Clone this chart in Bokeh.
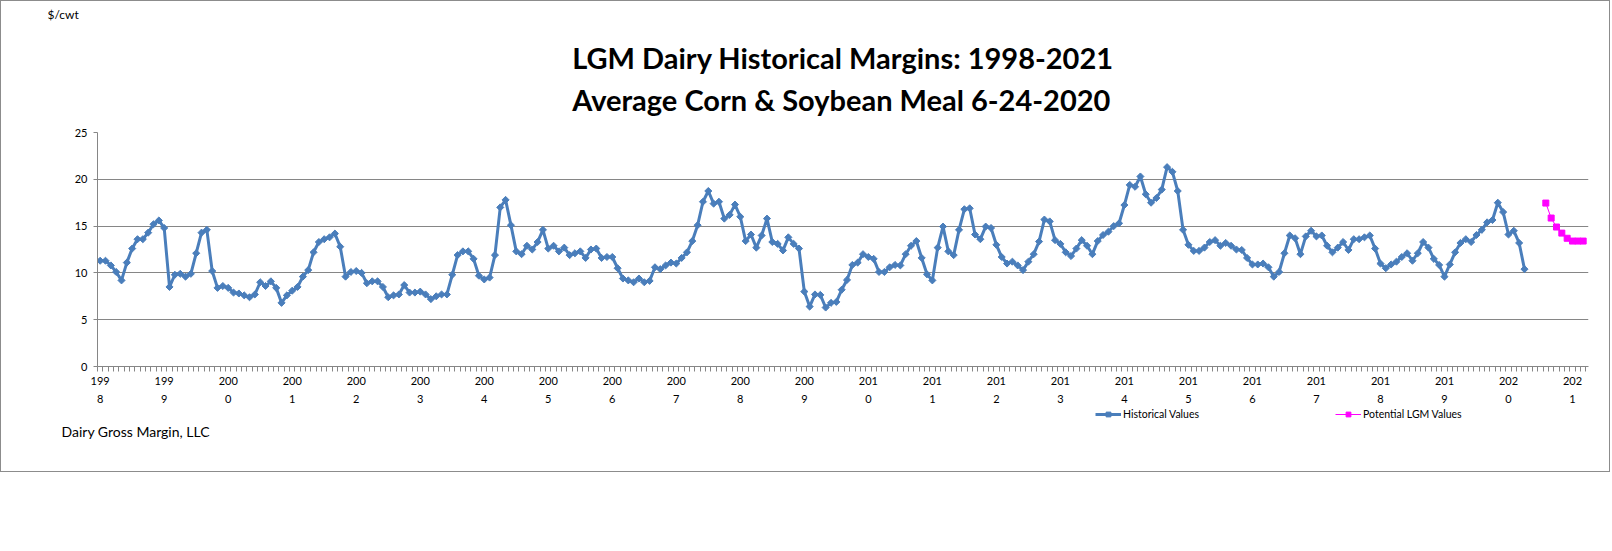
import numpy as np
from bokeh.plotting import figure
from bokeh.layouts import column
from bokeh.models import Range1d, FixedTicker, LinearAxis, Legend, LegendItem, Title
from bokeh.embed import file_html
from bokeh.resources import INLINE

# ---------------- data ----------------
years = list(range(1998, 2022))                      # x tick labels (one per January)
year_label_top = [str(y)[:3] for y in years]         # Excel wraps "1998" as "199" / "8"
year_label_bottom = [str(y)[3:] for y in years]

# Historical margin, $/cwt, monthly from Jan 1998 to Apr 2020
hist_values = [
    11.3, 11.3, 10.8, 10.1, 9.2, 11.1, 12.6, 13.6, 13.6, 14.3, 15.2, 15.6,     # 1998
    14.8, 8.5, 9.8, 9.9, 9.6, 9.9, 12.1, 14.3, 14.6, 10.2, 8.4, 8.6,           # 1999
    8.4, 7.9, 7.8, 7.6, 7.4, 7.7, 9.0, 8.6, 9.1, 8.4, 6.8, 7.6,                # 2000
    8.1, 8.5, 9.6, 10.3, 12.2, 13.3, 13.6, 13.8, 14.2, 12.8, 9.6, 10.1,        # 2001
    10.2, 10.0, 8.9, 9.1, 9.1, 8.5, 7.4, 7.6, 7.7, 8.7, 7.9, 7.9,              # 2002
    8.0, 7.7, 7.2, 7.5, 7.7, 7.7, 9.8, 11.9, 12.3, 12.3, 11.5, 9.7,            # 2003
    9.3, 9.5, 11.9, 17.0, 17.8, 15.1, 12.3, 12.0, 12.9, 12.5, 13.3, 14.6,      # 2004
    12.6, 12.9, 12.3, 12.7, 11.9, 12.1, 12.3, 11.6, 12.5, 12.6, 11.6, 11.7,    # 2005
    11.7, 10.5, 9.4, 9.2, 9.0, 9.4, 9.0, 9.15, 10.6, 10.4, 10.8, 11.1,         # 2006
    11.0, 11.6, 12.2, 13.4, 15.1, 17.6, 18.75, 17.4, 17.6, 15.8, 16.2, 17.3,   # 2007
    16.0, 13.4, 14.1, 12.7, 14.0, 15.8, 13.3, 13.1, 12.4, 13.8, 13.1, 12.6,    # 2008
    8.0, 6.4, 7.7, 7.65, 6.3, 6.8, 6.9, 8.2, 9.25, 10.85, 11.1, 12.0,          # 2009
    11.7, 11.5, 10.1, 10.1, 10.6, 10.85, 10.8, 12.0, 12.9, 13.4, 11.6, 9.85,   # 2010
    9.2, 12.7, 14.95, 12.3, 11.9, 14.6, 16.8, 16.9, 14.1, 13.6, 14.95, 14.8,   # 2011
    13.0, 11.7, 11.0, 11.2, 10.8, 10.3, 11.2, 12.0, 13.35, 15.7, 15.5, 13.5,   # 2012
    13.1, 12.2, 11.8, 12.6, 13.5, 12.9, 12.0, 13.4, 14.05, 14.4, 15.0, 15.3,   # 2013
    17.25, 19.4, 19.2, 20.3, 18.4, 17.5, 18.0, 18.9, 21.3, 20.8, 18.75, 14.6,  # 2014
    13.0, 12.35, 12.35, 12.7, 13.3, 13.5, 12.9, 13.2, 12.9, 12.5, 12.45, 11.6, # 2015
    10.9, 10.9, 11.0, 10.6, 9.6, 10.1, 12.1, 14.0, 13.7, 12.0, 13.9, 14.5,     # 2016
    13.9, 14.0, 12.9, 12.2, 12.7, 13.3, 12.45, 13.6, 13.6, 13.8, 14.0, 12.6,   # 2017
    11.0, 10.5, 10.9, 11.2, 11.7, 12.1, 11.3, 12.1, 13.3, 12.7, 11.5, 10.85,   # 2018
    9.6, 10.9, 12.2, 13.2, 13.6, 13.3, 14.05, 14.6, 15.4, 15.65, 17.5, 16.5,   # 2019
    14.1, 14.5, 13.2, 10.4,                                                    # 2020
]
# Potential LGM values, Aug 2020 to Mar 2021
lgm_values = [17.46, 15.86, 14.9, 14.25, 13.7, 13.4, 13.4, 13.4]
lgm_first_month = 272          # month number of Aug 2020 (1 = Jan 1998)
n_months = 280                 # categories on the axis (Jan 1998 .. Apr 2021)

title_lines = ["LGM Dairy Historical Margins: 1998-2021",
               "Average Corn & Soybean Meal 6-24-2020"]

hist_month = list(range(1, len(hist_values) + 1))
lgm_month = list(range(lgm_first_month, lgm_first_month + len(lgm_values)))
jan_month = [1 + 12 * i for i in range(len(years))]
boundaries = [k + 0.5 for k in range(0, n_months + 1)]

# ---------------- style ----------------
FONT = "Lato"
BLUE = "#4A7EBB"
MAGENTA = "#FF00FF"
GRID = "#868686"
FRAME_GREY = "#8c8c8c"

W = 1610
H_MAIN = 407
H_FOOT = 65

p = figure(width=W, height=H_MAIN, output_backend="svg", toolbar_location=None,
           x_range=Range1d(0.5, n_months), y_range=Range1d(0, 25),
           min_border_left=96, min_border_right=23, min_border_top=131,
           min_border_bottom=H_MAIN - 131 - 234)
p.title = None
p.outline_line_color = None
p.background_fill_color = "white"
p.border_fill_color = "white"
p.styles = {"border-left": f"1px solid {FRAME_GREY}", "border-right": f"1px solid {FRAME_GREY}",
            "border-top": f"1px solid {FRAME_GREY}", "box-sizing": "border-box"}

p.xgrid.visible = False
p.ygrid.ticker = FixedTicker(ticks=[5, 10, 15, 20, 25])
p.ygrid.grid_line_color = GRID
p.ygrid.grid_line_width = 1

yax = p.yaxis[0]
yax.ticker = FixedTicker(ticks=[0, 5, 10, 15, 20, 25])
yax.axis_line_color = GRID
yax.major_tick_line_color = GRID
yax.major_tick_out = 4
yax.major_tick_in = 0
yax.minor_tick_line_color = None
yax.major_label_text_font = FONT
yax.major_label_text_font_size = "11px"
yax.major_label_text_color = "#000000"
yax.major_label_standoff = 6

xax = p.xaxis[0]
xax.ticker = FixedTicker(ticks=jan_month, minor_ticks=boundaries)
xax.major_label_overrides = {m: t for m, t in zip(jan_month, year_label_top)}
xax.axis_line_color = GRID
xax.major_tick_line_color = None
xax.major_tick_out = 0
xax.major_tick_in = 0
xax.minor_tick_line_color = GRID
xax.minor_tick_out = 5
xax.minor_tick_in = 0
xax.major_label_text_font = FONT
xax.major_label_text_font_size = "11px"
xax.major_label_text_color = "#000000"
xax.major_label_standoff = 5

xax2 = LinearAxis(ticker=FixedTicker(ticks=jan_month),
                  major_label_overrides={m: t for m, t in zip(jan_month, year_label_bottom)})
xax2.axis_line_color = None
xax2.major_tick_line_color = None
xax2.minor_tick_line_color = None
xax2.major_tick_out = 0
xax2.major_tick_in = 0
xax2.minor_tick_out = 0
xax2.minor_tick_in = 0
xax2.major_label_text_font = FONT
xax2.major_label_text_font_size = "11px"
xax2.major_label_text_color = "#000000"
xax2.major_label_standoff = 7
p.add_layout(xax2, "below")

# ---------------- series ----------------
HIST_LINE = dict(line_color=BLUE, line_width=3)
HIST_MARK = dict(marker="square", angle=np.pi / 4, size=5, fill_color=BLUE, line_color=BLUE)
LGM_LINE = dict(line_color=MAGENTA, line_width=1)
LGM_MARK = dict(marker="square", size=6, fill_color=MAGENTA, line_color=MAGENTA)

p.line(hist_month, hist_values, **HIST_LINE)
p.scatter(hist_month, hist_values, **HIST_MARK)
p.line(lgm_month, lgm_values, **LGM_LINE)
p.scatter(lgm_month, lgm_values, **LGM_MARK)

# ---------------- titles (stacked upward from the frame) ----------------
p.add_layout(Title(text="\n".join(title_lines), align="center", offset=8,
                   standoff=32, text_font=FONT, text_font_size="29px", text_line_height=1.2,
                   text_font_style="bold", text_color="#000000"), "above")
p.add_layout(Title(text="$/cwt", align="left", offset=-50, standoff=0,
                   text_font=FONT, text_font_size="12px", text_font_style="normal",
                   text_color="#000000"), "above")

# ---------------- footer: legend and source note ----------------
# (its frame is aligned with the chart's frame; the same series are drawn there
#  but outside its visible y range, so only the legend shows)
f = figure(width=W, height=H_FOOT, output_backend="svg", toolbar_location=None,
           x_range=Range1d(0.5, n_months), y_range=Range1d(100, 101),
           min_border=0, min_border_bottom=52)
f.title = None
f.axis.visible = False
f.grid.visible = False
f.outline_line_color = None
f.background_fill_color = "white"
f.border_fill_color = "white"
f.styles = {"border-left": f"1px solid {FRAME_GREY}", "border-right": f"1px solid {FRAME_GREY}",
            "border-bottom": f"1px solid {FRAME_GREY}", "box-sizing": "border-box"}

k_hist_line = f.line(hist_month, hist_values, **HIST_LINE)
k_hist_pts = f.scatter(hist_month, hist_values, **HIST_MARK)
k_lgm_line = f.line(lgm_month, lgm_values, **LGM_LINE)
k_lgm_pts = f.scatter(lgm_month, lgm_values, **LGM_MARK)

legend = Legend(items=[LegendItem(label="Historical Values", renderers=[k_hist_line, k_hist_pts]),
                       LegendItem(label="Potential LGM Values", renderers=[k_lgm_line, k_lgm_pts])],
                orientation="horizontal", location=(998, 0))
legend.border_line_color = None
legend.background_fill_alpha = 0
legend.padding = 0
legend.margin = 0
legend.spacing = 136
legend.glyph_width = 26
legend.glyph_height = 12
legend.label_standoff = 2
legend.label_height = 12
legend.label_text_font = FONT
legend.label_text_font_size = "10.5px"
legend.label_text_color = "#000000"
f.add_layout(legend, "center")

f.add_layout(Title(text="Dairy Gross Margin, LLC", align="left", offset=-36, standoff=0,
                   text_font=FONT, text_font_size="14px", text_font_style="normal",
                   text_color="#000000"), "below")

page = column(p, f, spacing=0)

open("out.html", "w").write(file_html(page, INLINE))
